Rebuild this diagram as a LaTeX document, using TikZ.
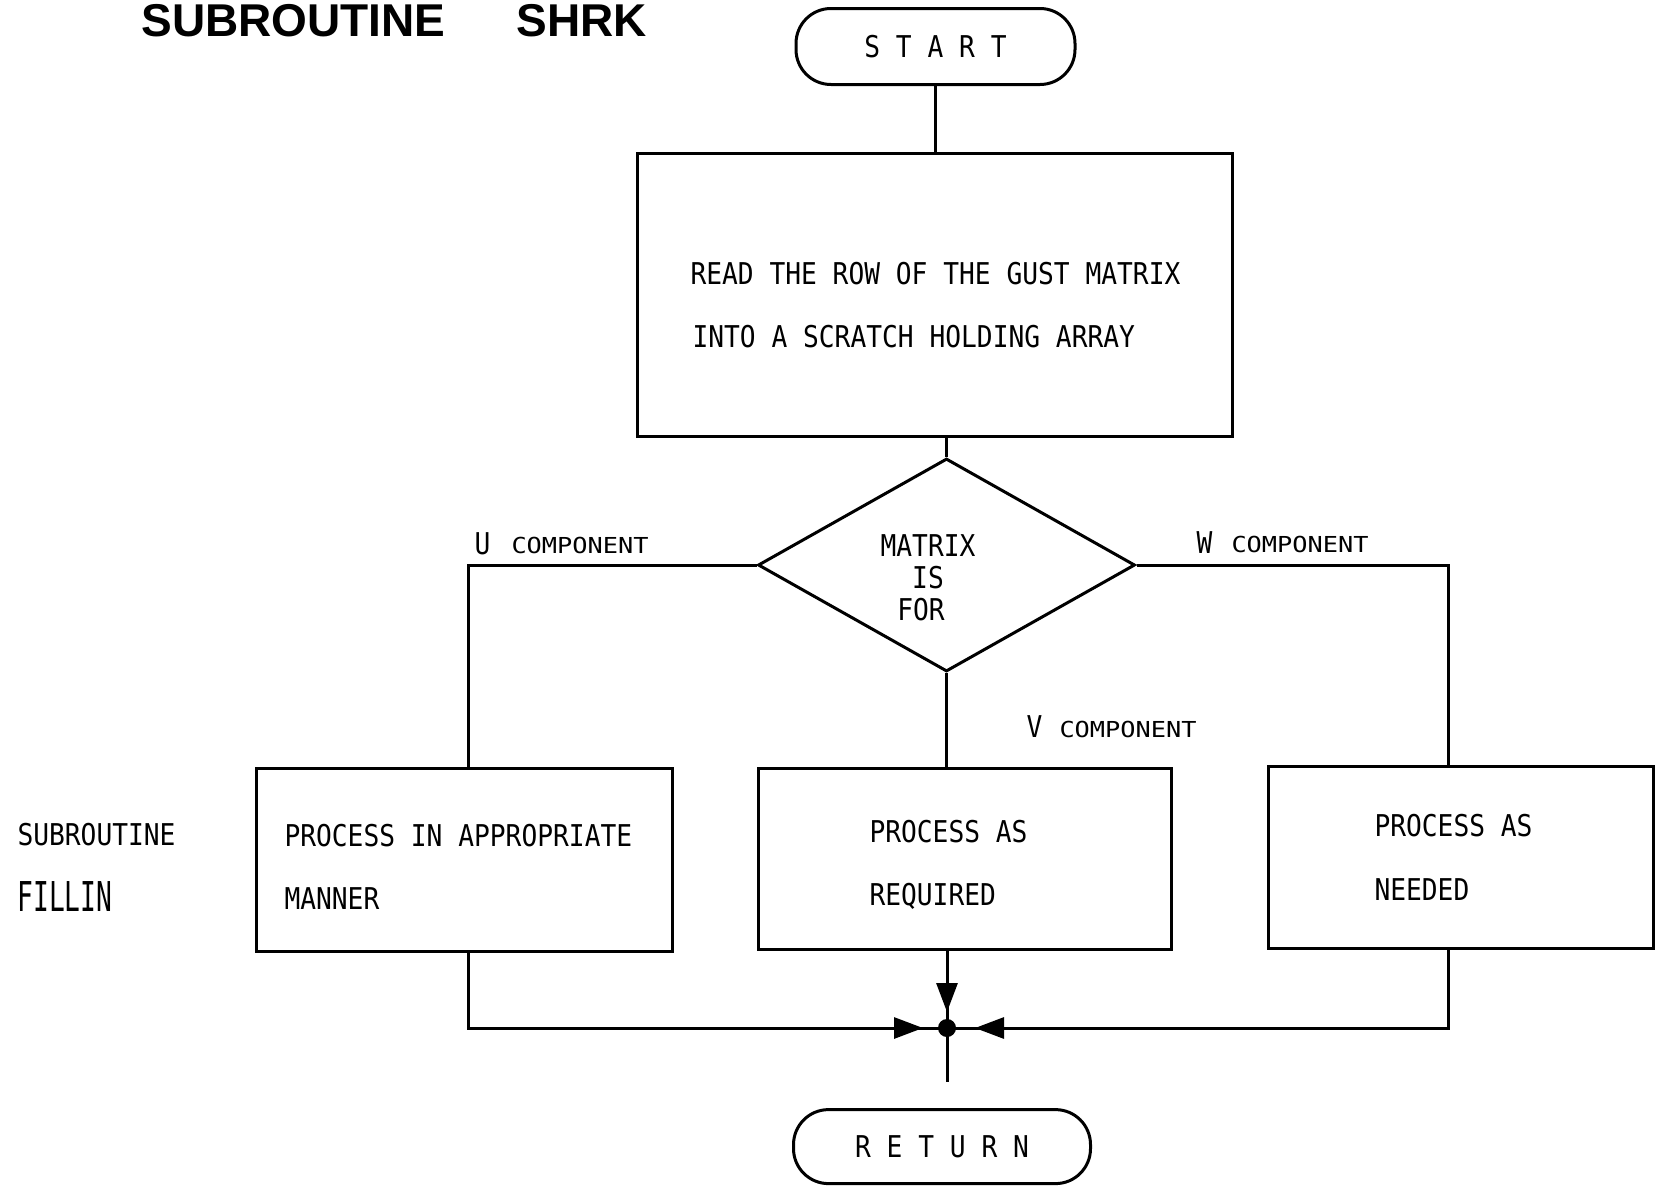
\documentclass[tikz,border=0pt]{standalone}
\usepackage{fontspec}
\usepackage{graphicx}
\usetikzlibrary{shapes.geometric, arrows.meta}
\newfontfamily\monofam[FakeStretch=0.875]{DejaVu Sans Mono}
\newfontfamily\compfam[FakeStretch=1.15]{DejaVu Sans Mono}
\newfontfamily\titlefam{Liberation Sans}
\newcommand{\boxfont}{\monofam\fontsize{30}{36}\selectfont}
\newcommand{\compfont}{\compfam\fontsize{22}{26}\selectfont}
\begin{document}
\begin{tikzpicture}[x=1pt, y=-1pt, line width=3pt,
  term/.style={draw, rectangle, rounded corners=35pt, inner sep=0pt, font=\boxfont},
  procbox/.style={draw, rectangle, inner sep=0pt},
  txt/.style={font=\boxfont, anchor=base west, inner sep=0pt},
  txtc/.style={font=\boxfont, anchor=center, inner sep=0pt},
  ctxt/.style={font=\compfont, anchor=base west, inner sep=0pt},
  ttl/.style={font=\titlefam\bfseries\fontsize{46}{56}\selectfont, anchor=base west, inner sep=0pt},
  arr/.style={-{Triangle[length=29pt, width=21pt]}},
  dec/.style={draw, diamond, inner sep=0pt}
]
\fill[white] (0,0) rectangle (1657,1186);
\useasboundingbox (0,0) rectangle (1657,1186);

% title
\node[ttl] (title1) at (140,36) {SUBROUTINE};
\node[ttl] (title2) at (515,36) {SHRK};

% terminals
\node[term, minimum width=279pt, minimum height=76pt] (start) at (935.5,46.5) {S T A R T};
\node[term, minimum width=297pt, minimum height=74pt] (ret) at (942,1146.6) {R E T U R N};

% read box
\node[procbox, minimum width=595pt, minimum height=283pt] (read) at (934.5,294.7) {};
\node[txt] (read1) at (689,284) {READ THE ROW OF THE GUST MATRIX};
\node[txt] (read2) at (691,347) {INTO A SCRATCH HOLDING ARRAY};

% decision
\node[dec, minimum width=377pt, minimum height=213pt] (dec) at (946.5,565) {};
\node[txtc] (dm1) at (928,545.7) {MATRIX};
\node[txtc] (dm2) at (928,578) {IS};
\node[txtc] (dm3) at (921,610) {FOR};

% lower boxes
\node[procbox, minimum width=416pt, minimum height=183pt] (lbox) at (464,859.5) {};
\node[procbox, minimum width=413pt, minimum height=181pt] (mbox) at (964.5,858.5) {};
\node[procbox, minimum width=385pt, minimum height=182pt] (rbox) at (1460.5,857) {};

\node[txt] (l1) at (283,846) {PROCESS IN APPROPRIATE};
\node[txt] (l2) at (283,909) {MANNER};
\node[txt] (m1) at (868,842) {PROCESS AS};
\node[txt] (m2) at (868,905) {REQUIRED};
\node[txt] (r1) at (1373,836) {PROCESS AS};
\node[txt] (r2) at (1373,900) {NEEDED};

\node[txt] (sub1) at (16,845) {SUBROUTINE};
\node[txt] (sub2) at (16,911) {\scalebox{1}[1.37]{FILLIN}};

% branch labels
\node[txt] (ulab) at (473,554) {U};
\node[ctxt] (ucomp) at (510,553) {COMPONENT};
\node[txt] (wlab) at (1195,553) {W};
\node[ctxt] (wcomp) at (1230,552) {COMPONENT};
\node[txt] (vlab) at (1025,737) {V};
\node[ctxt] (vcomp) at (1058,737) {COMPONENT};

% connectors
\draw (start) -- (start.south |- read.north);
\draw (read.south -| dec.north) -- (dec.north);
\draw (dec.west) -| ([xshift=4pt]lbox.north);
\draw (dec.east) -| ([xshift=-12pt]rbox.north);
\draw (dec.south) -- (dec.south |- mbox.north);

% junction
\node[circle, fill, inner sep=0pt, minimum size=18pt] (J) at (947,1028) {};
\coordinate (Jend) at (947,1082);
\draw ([xshift=4pt]lbox.south) |- (J.center);
\draw ([xshift=-12pt]rbox.south) |- (J.center);
\draw (mbox.south -| J) -- (J.center);
\draw (J.center) -- (Jend);
\draw[arr, shorten >=16pt] (mbox.south -| J) -- (J.center);
\draw[arr, shorten >=24pt] ([xshift=4pt]lbox.south) |- (J.center);
\draw[arr, shorten >=28pt] ([xshift=-12pt]rbox.south) |- (J.center);
\end{tikzpicture}
\end{document}
